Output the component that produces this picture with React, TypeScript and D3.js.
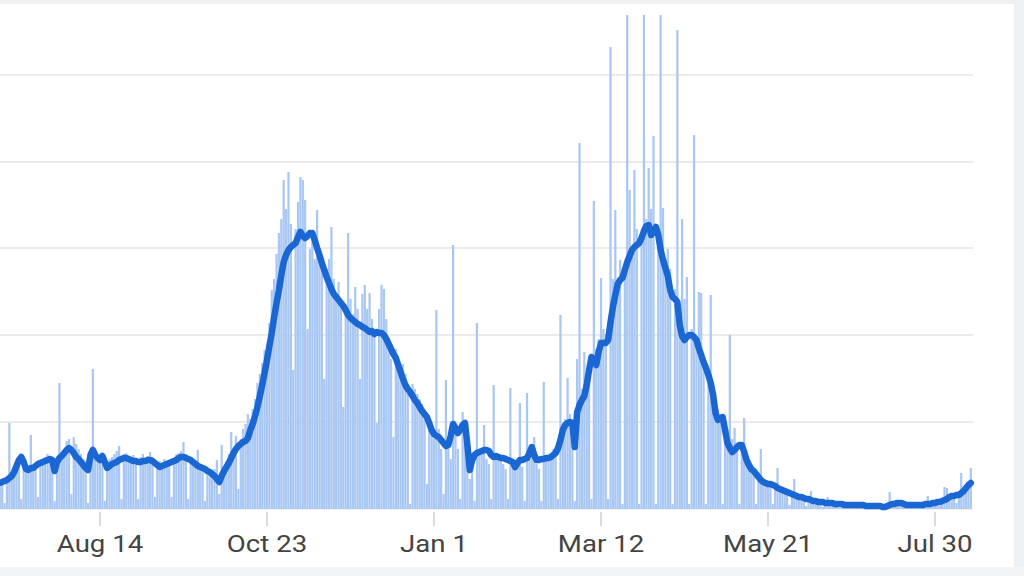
import React from 'react';
import * as d3 from 'd3';

// Daily reports starting 2021-07-03 (values in chart units)
const START = Date.UTC(2021, 6, 3);
const DAY = 86400000;

const barsJul21 = [22,24,6,30,86,34,38,44,50,10,48,45,42,74,40,44,12,46,50,52,55,53,50,8,50,126,55,60,68];
const barsAug21 = [70,15,72,65,60,55,50,48,6,52,140,56,52,50,54,8,48,50,52,55,58,63,10,55,56,52,50,54,50,10,52];
const barsSep21 = [55,50,53,57,52,12,46,48,44,50,48,47,12,50,55,56,58,67,55,10,52,50,48,59,44,40,8,40,38,36];
const barsOct21 = [40,49,15,64,42,48,55,77,60,73,20,70,80,85,95,90,100,110,126,135,146,159,150,186,219,230,255,276,290,329,300];
const barsNov21 = [337,285,139,280,307,332,329,309,180,260,270,250,299,255,240,130,240,250,282,230,215,227,210,102,200,276,210,195,222,200];
const barsDec21 = [130,215,224,200,216,190,180,86,200,224,220,190,170,150,72,160,150,140,145,135,120,5,125,120,115,110,105,100,25,90,85];
const barsJan22 = [70,199,80,60,15,129,70,50,264,75,60,10,97,70,55,30,45,8,186,55,60,84,50,45,10,124,55,50,48,45,40];
const barsFeb22 = [10,121,50,45,48,106,42,8,116,55,60,72,45,40,8,127,50,48,55,60,58,10,194,80,90,131,95,85];
const barsMar22 = [8,150,366,120,157,130,140,10,308,160,170,231,180,175,10,462,230,299,220,249,5,240,494,319,260,339,280,5,270,494,290];
const barsApr22 = [341,300,373,5,280,494,301,250,260,240,5,220,479,200,290,210,232,5,180,374,170,217,216,150,5,140,214,120,110,100];
const barsMay22 = [90,5,85,80,174,70,81,60,5,55,91,50,45,42,38,5,35,60,30,28,26,24,5,22,41,20,19,18,17,4,16];
const barsJun22 = [30,14,13,12,12,3,11,18,9,8,8,7,2,7,12,6,6,5,5,1,5,8,5,4,4,4,1,4,6,4];
const barsJul22 = [3,3,3,1,3,5,3,2,2,4,17,5,6,6,6,5,5,1,4,6,4,4,4,4,1,5,13,5,6,6,7];
const barsAug22 = [3,8,22,21,12,13,13,6,15,36,20,22,28,41];

const lineJul21 = [26,27,28,29,31,33,37,43,49,52,47,40,39,41,41,43,45,46,47,48,49,50,49,38,47,51,53,56,59];
const lineAug21 = [61,59,56,52,50,47,44,41,39,54,59,54,51,49,53,47,41,43,45,46,47,49,50,51,51,50,49,48,48,47,47];
const lineSep21 = [48,48,49,49,48,46,44,42,43,44,45,46,47,48,49,51,52,52,51,50,49,47,45,43,42,41,40,38,37,35];
const lineOct21 = [33,30,27,33,38,42,46,51,56,60,63,65,67,68,71,79,85,93,102,113,124,136,149,163,176,192,206,219,234,247,254];
const lineNov21 = [259,262,264,266,272,277,273,271,273,276,276,269,261,254,246,239,232,226,220,215,212,209,206,203,199,194,191,189,187,185];
const lineDec21 = [184,182,181,179,177,178,175,177,176,176,174,170,165,160,155,151,144,137,130,124,120,117,113,109,106,102,98,95,92,86,79];
const lineJan22 = [75,73,72,69,66,63,64,73,85,81,76,79,84,86,64,39,49,54,56,57,58,59,59,58,54,52,53,52,51,51,50];
const lineFeb22 = [49,48,47,42,46,49,49,50,51,56,62,54,49,49,50,50,51,51,52,54,56,61,69,79,84,86,87,86];
const lineMar22 = [62,97,104,109,113,124,139,152,147,144,157,166,166,166,169,187,202,214,225,229,231,239,247,253,259,262,264,266,271,278,283];
const lineApr22 = [284,274,277,282,274,259,249,241,233,219,212,210,207,184,173,169,172,174,174,172,169,161,154,147,141,134,126,114,96,89];
const lineMay22 = [91,92,79,66,61,57,59,62,64,64,57,49,44,40,38,35,32,29,27,26,25,25,24,23,21,20,19,18,17,16,15];
const lineJun22 = [14,13,12,12,11,10,10,9,8,8,7,7,7,6,6,6,6,5,5,5,5,4,4,4,4,4,4,4,4,4];
const lineJul22 = [3,3,3,3,3,3,3,2,2,3,4,5,5,6,6,6,5,4,4,4,4,4,4,4,4,5,5,5,6,6,7];
const lineAug22 = [7,8,9,10,12,13,13,14,14,16,18,21,24,26];

const tickDates = ['2021-08-14', '2021-10-23', '2022-01-01', '2022-03-12', '2022-05-21', '2022-07-30'];
const tickLabels = ['Aug 14', 'Oct 23', 'Jan 1', 'Mar 12', 'May 21', 'Jul 30'];
const gridValues = [87, 174, 261, 347, 434];

export default function App() {
  const bars = [
    ...barsJul21, ...barsAug21, ...barsSep21, ...barsOct21, ...barsNov21, ...barsDec21,
    ...barsJan22, ...barsFeb22, ...barsMar22, ...barsApr22, ...barsMay22, ...barsJun22,
    ...barsJul22, ...barsAug22,
  ];
  const avg = [
    ...lineJul21, ...lineAug21, ...lineSep21, ...lineOct21, ...lineNov21, ...lineDec21,
    ...lineJan22, ...lineFeb22, ...lineMar22, ...lineApr22, ...lineMay22, ...lineJun22,
    ...lineJul22, ...lineAug22,
  ];
  const dates = bars.map((_, i) => new Date(START + i * DAY));

  const x = d3.scaleUtc()
    .domain([new Date('2021-08-14T00:00:00Z'), new Date('2022-07-30T00:00:00Z')])
    .range([100, 935]);
  const y = d3.scaleLinear().domain([0, 495]).range([509, 14]);
  const step = x(new Date(START + DAY)) - x(new Date(START));
  const bw = step * 0.94;

  const linePath = d3.line<number>()
    .x((_, i) => x(dates[i]))
    .y((d) => y(d))(avg) || '';

  const x0 = x(dates[0]) - step / 2;
  const x1 = 973;

  return (
    <svg width={1024} height={576} style={{ position: 'absolute', left: 0, top: 0, background: '#fff' }}>
      <rect x={0} y={0} width={1024} height={576} fill="#ffffff" />
      <rect x={0} y={0} width={1024} height={4} fill="#f0f0f0" />
      <rect x={1014} y={0} width={10} height={576} fill="#eef1f4" />
      <rect x={0} y={567} width={1024} height={9} fill="#f3f4f6" />
      {gridValues.map((g) => (
        <line key={g} x1={Math.max(0, x0)} x2={x1} y1={y(g)} y2={y(g)} stroke="#e4e4e4" strokeWidth={1.5} />
      ))}
      <line x1={Math.max(0, x0)} x2={x1} y1={y(0)} y2={y(0)} stroke="#e6e6e6" strokeWidth={1} />
      <g>
        {bars.map((v, i) => (
          <rect
            key={i}
            x={x(dates[i]) - bw / 2}
            y={y(v)}
            width={bw}
            height={y(0) - y(v)}
            fill="#a9c7f3"
          />
        ))}
      </g>
      <path d={linePath} fill="none" stroke="#1a66d2" strokeWidth={6.5} strokeLinejoin="round" strokeLinecap="round" />
      {tickDates.map((t, k) => {
        const tx = x(new Date(t + 'T00:00:00Z'));
        return (
          <g key={t}>
            <line x1={tx} x2={tx} y1={512} y2={526} stroke="#cfcfcf" strokeWidth={1.5} />
            <text
              transform={`translate(${tx},552) scale(1.2,1)`}
              textAnchor="middle"
              fontFamily="Roboto, 'Noto Sans', sans-serif"
              fontSize={23}
              fill="#444444"
            >
              {tickLabels[k]}
            </text>
          </g>
        );
      })}
    </svg>
  );
}
